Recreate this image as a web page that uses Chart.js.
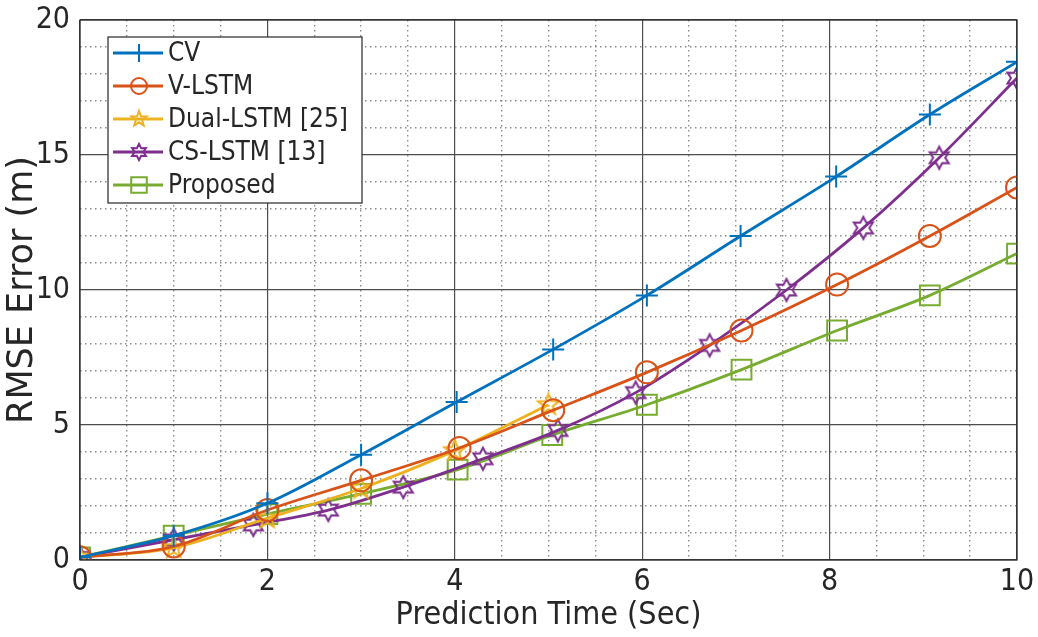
<!DOCTYPE html>
<html>
<head>
<meta charset="utf-8">
<script src="https://cdn.jsdelivr.net/npm/chart.js@4.4.1/dist/chart.umd.min.js"></script>
<style>
  html, body { margin: 0; padding: 0; background: #fff; }
  #wrap { width: 1038px; height: 637px; position: relative; }
</style>
</head>
<body>
<div id="wrap"><canvas id="rmseChart" width="1038" height="637"></canvas></div>
<script>
// data
const seriesNames = ['CV', 'V-LSTM', 'Dual-LSTM [25]', 'CS-LSTM [13]', 'Proposed'];

const cvX = [0, 1, 2, 3, 4.02, 5.05, 6.05, 7.05, 8.07, 9.07, 10];
const cvY = [0.1, 0.9, 2.1, 3.9, 5.85, 7.8, 9.8, 12.0, 14.2, 16.5, 18.45];

const vlstmX = [0, 1, 2, 3, 4.05, 5.05, 6.05, 7.06, 8.08, 9.07, 10];
const vlstmY = [0.1, 0.5, 1.85, 2.95, 4.15, 5.55, 6.95, 8.5, 10.2, 12.0, 13.8];

const dualX = [0, 1, 2, 3, 4.0, 5.0];
const dualY = [0.1, 0.45, 1.55, 2.65, 4.05, 5.75];

const csX = [0, 1, 1.85, 2.65, 3.45, 4.3, 5.1, 5.93, 6.72, 7.54, 8.36, 9.17, 10];
const csY = [0.1, 0.75, 1.3, 1.85, 2.7, 3.75, 4.8, 6.2, 7.95, 10.0, 12.3, 14.9, 17.85];

const propX = [0, 1, 2, 3, 4.03, 5.04, 6.05, 7.06, 8.08, 9.07, 10];
const propY = [0.1, 0.9, 1.7, 2.45, 3.35, 4.63, 5.75, 7.05, 8.5, 9.8, 11.35];

const xTickLabels = [0, 2, 4, 6, 8, 10];
const yTickLabels = [0, 5, 10, 15, 20];

const colors = ['#0072BD', '#D95319', '#EDB120', '#7E2F8E', '#77AC30'];
const FONT = "'DejaVu Sans Condensed', 'DejaVu Sans', sans-serif";

// star shaped markers (matlab pentagram / hexagram), outline only
function starMarker(color, points, outer, inner, lw) {
    const size = Math.ceil(outer * 2 + 6);
    const c = document.createElement('canvas');
    c.width = size; c.height = size;
    const g = c.getContext('2d');
    g.strokeStyle = color;
    g.lineWidth = lw;
    g.beginPath();
    for (let i = 0; i < points * 2; i++) {
        const r = i % 2 === 0 ? outer : inner;
        const a = -Math.PI / 2 + i * Math.PI / points;
        const px = size / 2 + r * Math.cos(a);
        const py = size / 2 + r * Math.sin(a);
        if (i === 0) g.moveTo(px, py); else g.lineTo(px, py);
    }
    g.closePath();
    g.stroke();
    return c;
}

const pentagram = starMarker(colors[2], 5, 11, 4.5, 2);
const hexagram = starMarker(colors[3], 6, 11, 6, 2);
const pentagramSmall = starMarker(colors[2], 5, 8, 3.3, 2);
const hexagramSmall = starMarker(colors[3], 6, 8, 4.4, 2);

function toPoints(xs, ys) {
    return xs.map((x, i) => ({ x: x, y: ys[i] }));
}

const markerStyles = [
    { pointStyle: 'cross', pointRadius: 11 },
    { pointStyle: 'circle', pointRadius: 11 },
    { pointStyle: pentagram, pointRadius: 11 },
    { pointStyle: hexagram, pointRadius: 11 },
    { pointStyle: 'rect', pointRadius: 14 }
];
const legendMarkers = [
    { pointStyle: 'cross', radius: 9 },
    { pointStyle: 'circle', radius: 8 },
    { pointStyle: pentagramSmall, radius: 8 },
    { pointStyle: hexagramSmall, radius: 8 },
    { pointStyle: 'rect', radius: 11 }
];

const allX = [cvX, vlstmX, dualX, csX, propX];
const allY = [cvY, vlstmY, dualY, csY, propY];

const datasets = seriesNames.map((name, i) => ({
    label: name,
    data: toPoints(allX[i], allY[i]),
    borderColor: colors[i],
    backgroundColor: 'rgba(0,0,0,0)',
    borderWidth: 2.8,
    showLine: true,
    cubicInterpolationMode: 'monotone',
    pointStyle: markerStyles[i].pointStyle,
    pointRadius: markerStyles[i].pointRadius,
    pointBorderWidth: 2,
    pointBorderColor: colors[i],
    pointBackgroundColor: 'rgba(0,0,0,0)'
}));

// box around the plot + legend inside the axes
const boxAndLegend = {
    id: 'boxAndLegend',
    afterDraw(chart) {
        const ctx = chart.ctx;
        const a = chart.chartArea;
        ctx.save();
        ctx.strokeStyle = '#262626';
        ctx.lineWidth = 1.2;
        ctx.strokeRect(a.left, a.top, a.right - a.left, a.bottom - a.top);

        // legend
        const lx = 108, ly = 37, lw = 254, lh = 166;
        ctx.fillStyle = '#fff';
        ctx.fillRect(lx, ly, lw, lh);
        ctx.strokeStyle = '#262626';
        ctx.lineWidth = 1.2;
        ctx.strokeRect(lx, ly, lw, lh);
        ctx.font = '26px ' + FONT;
        ctx.textBaseline = 'middle';
        seriesNames.forEach((name, i) => {
            const y = 53 + i * 33;
            ctx.strokeStyle = colors[i];
            ctx.lineWidth = 2.8;
            ctx.beginPath();
            ctx.moveTo(113, y);
            ctx.lineTo(163, y);
            ctx.stroke();
            ctx.fillStyle = 'rgba(0,0,0,0)';
            ctx.strokeStyle = colors[i];
            ctx.lineWidth = 2;
            Chart.helpers.drawPoint(ctx, {
                pointStyle: legendMarkers[i].pointStyle,
                radius: legendMarkers[i].radius,
                rotation: 0,
                borderWidth: 2
            }, 139, y);
            ctx.fillStyle = '#262626';
            ctx.fillText(name, 168, y + 1);
        });
        ctx.restore();
    }
};

const ctx = document.getElementById('rmseChart').getContext('2d');
new Chart(ctx, {
    type: 'scatter',
    data: { datasets: datasets },
    plugins: [boxAndLegend],
    options: {
        responsive: false,
        animation: false,
        layout: { padding: { left: 0, top: 20, right: 21, bottom: 0 } },
        plugins: {
            legend: { display: false },
            tooltip: { enabled: false }
        },
        scales: {
            x: {
                type: 'linear',
                min: 0,
                max: 10,
                afterBuildTicks: (scale) => {
                    const t = [];
                    for (let v = 0; v <= 10; v += 0.5) t.push({ value: v });
                    scale.ticks = t;
                },
                afterFit: (scale) => {
                    scale.height = 77;
                    scale.paddingLeft = 0;
                    scale.paddingRight = 0;
                },
                ticks: {
                    autoSkip: false,
                    maxRotation: 0,
                    padding: 4,
                    color: '#262626',
                    font: { family: FONT, size: 30 },
                    callback: (v) => xTickLabels.includes(v) ? String(v) : ''
                },
                grid: {
                    drawTicks: false,
                    color: (c) => xTickLabels.includes(c.tick.value) ? '#4d4d4d' : '#8c8c8c',
                    lineWidth: (c) => xTickLabels.includes(c.tick.value) ? 1.2 : 1.4
                },
                border: {
                    display: false,
                    dash: (c) => (c.tick && xTickLabels.includes(c.tick.value)) ? [] : [1.5, 3.5]
                },
                title: {
                    display: true,
                    text: 'Prediction Time (Sec)',
                    color: '#262626',
                    font: { family: FONT, size: 32 },
                    padding: { top: 0, bottom: 2 }
                }
            },
            y: {
                type: 'linear',
                min: 0,
                max: 20,
                afterBuildTicks: (scale) => {
                    const t = [];
                    for (let v = 0; v <= 20; v += 1) t.push({ value: v });
                    scale.ticks = t;
                },
                afterFit: (scale) => {
                    scale.width = 80;
                    scale.paddingTop = 0;
                    scale.paddingBottom = 0;
                },
                ticks: {
                    autoSkip: false,
                    padding: 10,
                    color: '#262626',
                    font: { family: FONT, size: 30 },
                    callback: (v) => yTickLabels.includes(v) ? String(v) : ''
                },
                grid: {
                    drawTicks: false,
                    color: (c) => yTickLabels.includes(c.tick.value) ? '#4d4d4d' : '#8c8c8c',
                    lineWidth: (c) => yTickLabels.includes(c.tick.value) ? 1.2 : 1.4
                },
                border: {
                    display: false,
                    dash: (c) => (c.tick && yTickLabels.includes(c.tick.value)) ? [] : [1.5, 3.5]
                },
                title: {
                    display: true,
                    text: 'RMSE Error (m)',
                    color: '#262626',
                    font: { family: "'DejaVu Sans', sans-serif", size: 35 },
                    padding: { top: 2, bottom: 0 }
                }
            }
        }
    }
});
</script>
</body>
</html>
